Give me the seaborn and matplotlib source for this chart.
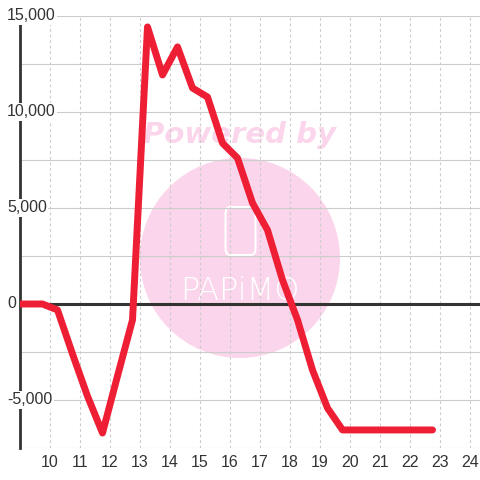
import numpy as np
import pandas as pd
import seaborn as sns
import matplotlib.pyplot as plt
from matplotlib.patches import Ellipse, FancyBboxPatch

# Data
hours = [8.75, 9.25, 9.75, 10.25, 10.75, 11.25, 11.75, 12.25, 12.75, 13.25,
         13.75, 14.25, 14.75, 15.25, 15.75, 16.25, 16.75, 17.25, 17.75, 18.25,
         18.75, 19.25, 19.75, 20.25, 20.75, 21.25, 21.75, 22.25, 22.75]
values = [0, 0, 0, -310, -2600, -4800, -6720, -3750, -830, 14430,
          11930, 13390, 11250, 10780, 8380, 7600, 5260, 3850, 1250, -830,
          -3440, -5420, -6560, -6560, -6560, -6560, -6560, -6560, -6560]
x_ticks = list(range(10, 25))
y_labels = [15000, 10000, 5000, 0, -5000]

df = pd.DataFrame({'hour': hours, 'value': values})

sns.set_theme(style='white')
plt.rcParams['font.family'] = ['Liberation Sans', 'DejaVu Sans']

fig = plt.figure(figsize=(4.8, 4.8), dpi=100)
ax = fig.add_axes([20 / 480, 32 / 480, 460 / 480, 432 / 480])
ax.set_xlim(9, 24.333)
ax.set_ylim(-7500, 15000)

# grid
for y in np.arange(-7500, 15001, 2500):
    ax.axhline(y, color='#cccccc', lw=0.8, zorder=1)
for x in x_ticks:
    ax.axvline(x, color='#cccccc', lw=0.8, ls=(0, (2.5, 2.5)), zorder=1)

# watermark
ax.add_patch(Ellipse((16.33, 2400), 6.67, 10420, color='#fbd5eb', lw=0, zorder=0.5))
ax.text(16.33, 8800, 'Powered by', color='#fbd5eb', fontsize=21, fontweight='bold',
        fontstyle='italic', family='DejaVu Sans', ha='center', va='center', zorder=0.6)
ax.add_patch(FancyBboxPatch((15.85, 2550), 1.0, 2500, boxstyle='round,pad=0,rounding_size=0.15',
                            fc='none', ec='white', lw=1.5, mutation_aspect=2500, zorder=0.6))
ax.text(16.33, 700, 'PAPiMO', color='white', fontsize=23, family='DejaVu Sans',
        fontweight='light', ha='center', va='center', zorder=0.6)

# zero line
ax.axhline(0, color='#333333', lw=2.2, zorder=2)

sns.lineplot(data=df, x='hour', y='value', ax=ax, color='#ee1f35', lw=5,
             zorder=4, solid_joinstyle='round')

# spines / ticks
for s in ['top', 'right', 'bottom']:
    ax.spines[s].set_visible(False)
ax.spines['left'].set_color('#333333')
ax.spines['left'].set_linewidth(2)
ax.spines['left'].set_zorder(3)

ax.set_xticks(x_ticks)
ax.set_xticklabels([str(t) for t in x_ticks], fontsize=11.5, color='#333333')
ax.tick_params(axis='x', length=0, pad=5)
ax.set_yticks([])
ax.set_xlabel('')
ax.set_ylabel('')

for v in y_labels:
    ax.text(-13 / 460, v, f'{v:,}', transform=ax.get_yaxis_transform(), ha='left',
            va='center', fontsize=11.5, color='#333333', zorder=5, clip_on=False,
            bbox=dict(fc='white', ec='none', pad=1))

fig.savefig('out.png', dpi=100)
